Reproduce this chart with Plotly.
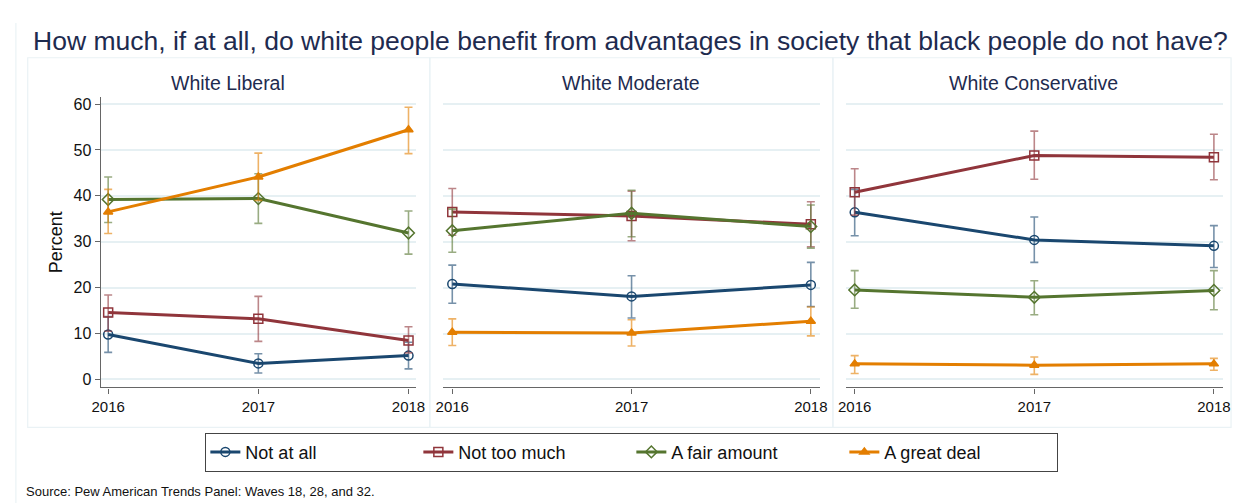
import plotly.graph_objects as go

# Survey years shown on each panel
years = [2016, 2017, 2018]
panels = ["White Liberal", "White Moderate", "White Conservative"]
responses = ["Not at all", "Not too much", "A fair amount", "A great deal"]

# Point estimates (percent) per panel, per response
liberal_est = {
    "Not at all": [9.8, 3.5, 5.2],
    "Not too much": [14.6, 13.2, 8.5],
    "A fair amount": [39.2, 39.4, 31.9],
    "A great deal": [36.5, 44.1, 54.4],
}
moderate_est = {
    "Not at all": [20.8, 18.1, 20.6],
    "Not too much": [36.5, 35.6, 33.8],
    "A fair amount": [32.4, 36.2, 33.3],
    "A great deal": [10.3, 10.1, 12.7],
}
conservative_est = {
    "Not at all": [36.4, 30.4, 29.1],
    "Not too much": [40.8, 48.8, 48.4],
    "A fair amount": [19.5, 17.9, 19.4],
    "A great deal": [3.4, 3.1, 3.4],
}

# 95% confidence interval bounds
liberal_low = {
    "Not at all": [5.9, 1.4, 2.3],
    "Not too much": [10.5, 8.3, 5.8],
    "A fair amount": [34.2, 34.0, 27.3],
    "A great deal": [31.8, 39.0, 49.2],
}
liberal_high = {
    "Not at all": [13.7, 5.6, 8.1],
    "Not too much": [18.4, 18.1, 11.5],
    "A fair amount": [44.1, 44.8, 36.7],
    "A great deal": [41.4, 49.3, 59.3],
}
moderate_low = {
    "Not at all": [16.6, 13.4, 15.9],
    "Not too much": [31.4, 30.2, 28.9],
    "A fair amount": [27.7, 31.1, 28.6],
    "A great deal": [7.4, 7.3, 9.5],
}
moderate_high = {
    "Not at all": [24.9, 22.6, 25.5],
    "Not too much": [41.6, 41.0, 38.7],
    "A fair amount": [37.1, 41.2, 38.0],
    "A great deal": [13.2, 13.0, 15.8],
}
conservative_low = {
    "Not at all": [31.3, 25.5, 24.4],
    "Not too much": [35.8, 43.6, 43.5],
    "A fair amount": [15.5, 14.1, 15.2],
    "A great deal": [1.3, 1.1, 2.0],
}
conservative_high = {
    "Not at all": [41.4, 35.4, 33.5],
    "Not too much": [45.9, 54.1, 53.4],
    "A fair amount": [23.7, 21.5, 23.7],
    "A great deal": [5.2, 4.9, 4.6],
}

y_ticks = [0, 10, 20, 30, 40, 50, 60]

colors = {
    "Not at all": "#1a476f",
    "Not too much": "#90353b",
    "A fair amount": "#55752f",
    "A great deal": "#e37e00",
}
bar_colors = {
    "Not at all": "rgba(26,71,111,0.6)",
    "Not too much": "rgba(144,53,59,0.6)",
    "A fair amount": "rgba(85,117,47,0.6)",
    "A great deal": "rgba(227,126,0,0.6)",
}
symbols = {
    "Not at all": "circle-open",
    "Not too much": "square-open",
    "A fair amount": "diamond-open",
    "A great deal": "triangle-up",
}

FONT = "Liberation Sans, Arial, sans-serif"
W, H = 1244, 504


def px(x):
    """Pixel x -> paper fraction."""
    return x / W


def py(y):
    """Pixel y (from top) -> paper fraction (from bottom)."""
    return 1 - y / H


x_px = [(93, 413), (440.7, 822.7), (849, 1231.7)]
y_px = (96.5, 388)

fig = go.Figure()

panel_data = [
    (liberal_est, liberal_low, liberal_high),
    (moderate_est, moderate_low, moderate_high),
    (conservative_est, conservative_low, conservative_high),
]

for i, (est, low, high) in enumerate(panel_data):
    xa = "x" if i == 0 else f"x{i + 1}"
    ya = "y" if i == 0 else f"y{i + 1}"
    for r in responses:
        vals = est[r]
        plus = [h - v for h, v in zip(high[r], vals)]
        minus = [v - l for v, l in zip(vals, low[r])]
        fig.add_trace(go.Scatter(
            x=years, y=vals, xaxis=xa, yaxis=ya,
            mode="lines+markers",
            name=r, legendgroup=r, showlegend=(i == 0),
            line=dict(color=colors[r], width=3),
            marker=dict(symbol=symbols[r], size=9 if r != "A great deal" else 8,
                        color=colors[r], line=dict(width=1.5, color=colors[r])),
            error_y=dict(type="data", array=plus, arrayminus=minus,
                         color=bar_colors[r], thickness=1.6, width=4),
        ))

layout_axes = {}
for i in range(3):
    sx = "xaxis" if i == 0 else f"xaxis{i + 1}"
    sy = "yaxis" if i == 0 else f"yaxis{i + 1}"
    x0, x1 = x_px[i]
    layout_axes[sx] = dict(
        domain=[px(x0), px(x1)], range=[2015.95, 2018.05],
        tickvals=years, ticktext=[str(y) for y in years],
        showgrid=False, zeroline=False,
        showline=True, linecolor="#666666", linewidth=1.2,
        ticks="outside", ticklen=5, tickcolor="#666666",
        tickfont=dict(family=FONT, size=15, color="#111111"),
        anchor="y" if i == 0 else f"y{i + 1}",
        fixedrange=True,
    )
    layout_axes[sy] = dict(
        domain=[py(y_px[1]), py(y_px[0])], range=[-1.74, 61.5],
        tickvals=y_ticks, showgrid=True, gridcolor="#e6f0f3", gridwidth=1.5,
        zeroline=False,
        showline=(i == 0), linecolor="#666666", linewidth=1.2,
        ticks="outside" if i == 0 else "", ticklen=5, tickcolor="#666666",
        showticklabels=(i == 0),
        tickfont=dict(family=FONT, size=16, color="#111111"),
        anchor="x" if i == 0 else f"x{i + 1}",
        fixedrange=True,
    )
layout_axes["yaxis"]["title"] = dict(
    text="Percent", standoff=6,
    font=dict(family=FONT, size=18, color="#111111"))

fig.update_layout(**layout_axes)

# Faint panel frames
shapes = []
frames = [(19, 427), (427, 836), (836, 1240)]
for fx0, fx1 in frames:
    shapes.append(dict(type="rect", xref="paper", yref="paper",
                       x0=px(fx0), x1=px(fx1), y0=py(428), y1=py(57),
                       line=dict(color="#eaf2f5", width=1.2), layer="below"))
shapes.append(dict(type="line", xref="paper", yref="paper",
                   x0=px(7), x1=px(7), y0=0, y1=py(22),
                   line=dict(color="#eaf2f5", width=1.2), layer="below"))

annotations = [
    dict(text="How much, if at all, do white people benefit from advantages in society that black people do not have?",
         xref="paper", yref="paper", x=px(22), y=py(40),
         xanchor="left", yanchor="middle", showarrow=False,
         font=dict(family=FONT, size=26.5, color="#1e2b4f")),
    dict(text="Source: Pew American Trends Panel: Waves 18, 28, and 32.",
         xref="paper", yref="paper", x=px(15), y=py(492),
         xanchor="left", yanchor="middle", showarrow=False,
         font=dict(family=FONT, size=13, color="#111111")),
]
centers = [222, 631, 1040]
for name, cx in zip(panels, centers):
    annotations.append(dict(
        text=name, xref="paper", yref="paper", x=px(cx), y=py(82),
        xanchor="center", yanchor="middle", showarrow=False,
        font=dict(family=FONT, size=19.5, color="#1e2b4f")))

fig.update_layout(
    width=W, height=H,
    margin=dict(l=0, r=0, t=0, b=0),
    paper_bgcolor="white", plot_bgcolor="white",
    shapes=shapes, annotations=annotations,
    showlegend=True,
    legend=dict(
        orientation="h", x=px(632), y=py(453),
        xanchor="center", yanchor="middle",
        bordercolor="#444444", borderwidth=1, bgcolor="white",
        font=dict(family=FONT, size=18, color="#111111"),
        entrywidth=168, entrywidthmode="pixels",
        itemwidth=30,
        tracegroupgap=0,
    ),
)

fig.write_html("out.html")
